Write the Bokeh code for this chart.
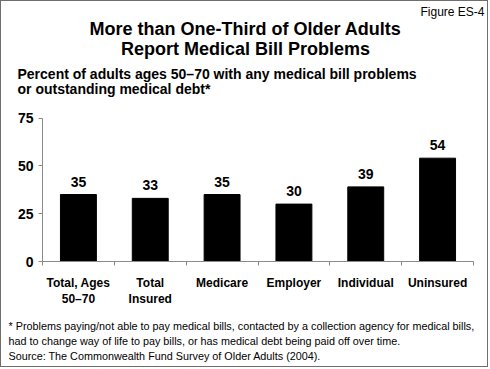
import numpy as np
from bokeh.plotting import figure
from bokeh.models import Range1d, FixedTicker, Label, ColumnDataSource
from bokeh.embed import file_html
from bokeh.resources import INLINE
from bokeh.core.properties import value

# ---- data ----
categories = ["Total, Ages\n50–70", "Total\nInsured", "Medicare", "Employer", "Individual", "Uninsured"]
percents = [35, 33, 35, 30, 39, 54]
y_ticks = [0, 25, 50, 75]

figure_tag = "Figure ES-4"
title_lines = ["More than One-Third of Older Adults", "Report Medical Bill Problems"]
subtitle_lines = ["Percent of adults ages 50–70 with any medical bill problems",
                  "or outstanding medical debt*"]
note_lines = ["* Problems paying/not able to pay medical bills, contacted by a collection agency for medical bills,",
              "had to change way of life to pay bills, or has medical debt being paid off over time.",
              "Source: The Commonwealth Fund Survey of Older Adults (2004)."]

# ---- layout (page pixels) ----
W, H = 488, 367                  # plus a 1px CSS border -> 490 x 369
AX_L, AX_R = 42, 473             # x-axis extent on the page
AX_B, AX_T = 261, 117.5          # y = 0 and y = 75 on the page
FONT = "Liberation Sans"
AXIS_GRAY = "#8a8a8a"
YMAX = 75
NX = len(categories)

# the frame covers the whole canvas; ranges are set so the axes land where wanted
sx = (AX_R - AX_L) / NX
sy = (AX_B - AX_T) / YMAX
x_start = -(AX_L - 1) / sx
x_end = NX + (W + 1 - AX_R) / sx
y_start = -(H + 1 - AX_B) / sy
y_end = YMAX + (AX_T - 1) / sy

x = np.arange(NX) + 0.5
src = ColumnDataSource(dict(x=x, top=percents, label=[str(v) for v in percents]))

p = figure(width=W, height=H, output_backend="svg", toolbar_location=None,
           x_range=Range1d(x_start, x_end), y_range=Range1d(y_start, y_end),
           min_border=0, min_border_left=0, min_border_right=0,
           min_border_top=0, min_border_bottom=0)
p.styles = {"border": "1px solid #6e6e6e"}
p.outline_line_color = None
p.grid.visible = False
p.background_fill_color = "white"
p.border_fill_color = "white"

p.vbar(x="x", top="top", width=0.5, source=src, fill_color="black", line_color="black")
p.text(x="x", y="top", text="label", source=src, text_align="center",
       text_baseline="middle", y_offset=-13, text_font=value(FONT),
       text_font_style="bold", text_font_size="14px", text_color="black")

xa = p.xaxis[0]
xa.fixed_location = 0
xa.bounds = (0, NX)
xa.ticker = FixedTicker(ticks=list(x), minor_ticks=list(range(NX + 1)))
xa.major_label_overrides = {float(xi): c for xi, c in zip(x, categories)}
xa.major_tick_out = 0
xa.major_tick_in = 0
xa.minor_tick_out = 4
xa.minor_tick_in = 0
xa.minor_tick_line_color = AXIS_GRAY
xa.axis_line_color = AXIS_GRAY
xa.major_label_standoff = 10
xa.major_label_text_font = FONT
xa.major_label_text_font_style = "bold"
xa.major_label_text_font_size = "12px"
xa.major_label_text_color = "black"

ya = p.yaxis[0]
ya.fixed_location = 0
ya.bounds = (0, YMAX)
ya.ticker = FixedTicker(ticks=y_ticks)
ya.major_tick_out = 4
ya.major_tick_in = 0
ya.minor_tick_line_color = None
ya.major_tick_line_color = AXIS_GRAY
ya.axis_line_color = AXIS_GRAY
ya.major_label_standoff = 5
ya.major_label_text_font = FONT
ya.major_label_text_font_style = "bold"
ya.major_label_text_font_size = "14px"
ya.major_label_text_color = "black"


def add_text(txt, px, py, size, bold=False, align="left"):
    # px, py: wanted page position (py = text middle); converted through the data scales
    dx = (px - AX_L) / sx
    dy = (AX_B - py) / sy
    p.add_layout(Label(x=dx, y=dy, text=txt,
                       text_font=FONT, text_font_size=size,
                       text_font_style="bold" if bold else "normal",
                       text_align=align, text_baseline="middle", text_color="black"))


add_text(figure_tag, 484, 11.5, "12px", align="right")
add_text(title_lines[0], 245, 28.5, "18px", bold=True, align="center")
add_text(title_lines[1], 245, 48, "18px", bold=True, align="center")
add_text(subtitle_lines[0], 17, 73, "14px", bold=True)
add_text(subtitle_lines[1], 17, 88.5, "14px", bold=True)
for i, line in enumerate(note_lines):
    add_text(line, 8, 325 + 15 * i, "10.8px")

open("out.html", "w").write(file_html(p, INLINE))
